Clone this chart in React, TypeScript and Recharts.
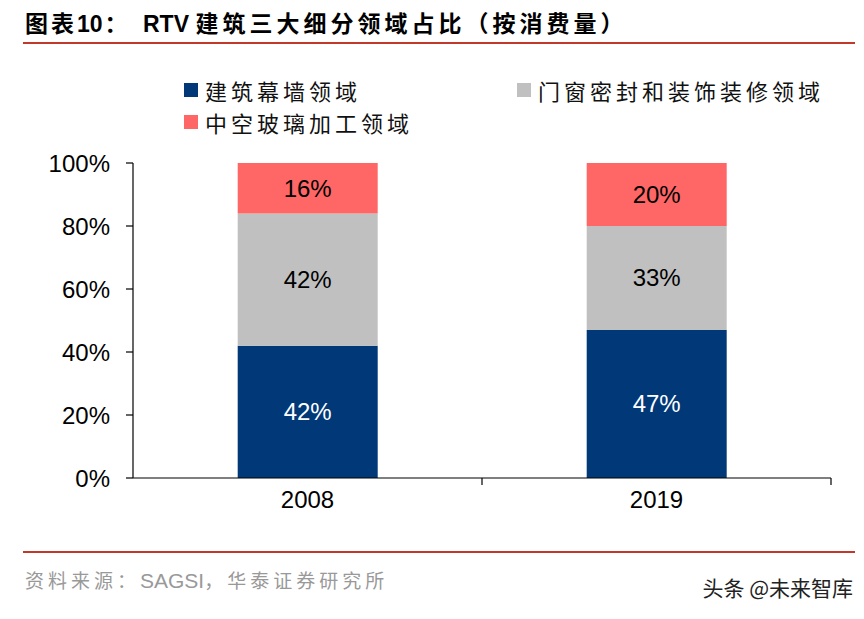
import React from "react";
import { BarChart, Bar, XAxis, YAxis, LabelList } from "recharts";

const years = ["2008", "2019"];
const curtainWall = [42, 47];
const doorWindow = [42, 33];
const insulatingGlass = [16, 20];
const yTicks = [0, 20, 40, 60, 80, 100];

const seriesNames = ["建筑幕墙领域", "门窗密封和装饰装修领域", "中空玻璃加工领域"];
const seriesColors = ["#003878", "#C0C0C0", "#FF6666"];
const labelColors = ["#ffffff", "#000000", "#000000"];

const data = years.map((year, i) => ({
  year,
  curtainWall: curtainWall[i],
  doorWindow: doorWindow[i],
  insulatingGlass: insulatingGlass[i],
}));
const seriesKeys = ["curtainWall", "doorWindow", "insulatingGlass"];

const W = 864;
const H = 619;
const PLOT_LEFT = 133;
const PLOT_RIGHT = 831;
const PLOT_TOP = 163;
const PLOT_BOTTOM = 478;
const X_AXIS_H = 40;
const halfBand = (PLOT_RIGHT - PLOT_LEFT) / years.length / 2;

const latin = "'Liberation Sans', Arial, 'Noto Sans CJK SC', sans-serif";
const cjk = "'Noto Sans CJK SC', 'Liberation Sans', sans-serif";

function YearTick(props: any) {
  const { x, y, payload } = props;
  return (
    <g>
      <line x1={x + halfBand} y1={y} x2={x + halfBand} y2={y + 7} stroke="#000" strokeWidth={1.2} />
      <text x={x} y={y + 30} textAnchor="middle" fontSize={24} fontFamily={latin} fill="#000">
        {payload.value}
      </text>
    </g>
  );
}

export default function App() {
  return (
    <div style={{ position: "absolute", left: 0, top: 0, width: W, height: H, background: "#fff", overflow: "hidden" }}>
      {/* title */}
      <div style={{ position: "absolute", left: 25, top: 10, fontSize: 23, lineHeight: "28px", fontWeight: 700, fontFamily: latin, color: "#000", whiteSpace: "nowrap" }}>
        <span style={{ letterSpacing: 3 }}>图表</span>10<span style={{ marginLeft: 2 }}>：</span>
      </div>
      <div style={{ position: "absolute", left: 143, top: 10, fontSize: 23, lineHeight: "28px", fontWeight: 700, fontFamily: latin, color: "#000", whiteSpace: "nowrap" }}>
        RTV <span style={{ letterSpacing: 4 }}>建筑三大细分领域占比（按消费量）</span>
      </div>
      <div style={{ position: "absolute", left: 23, top: 42, width: 832, height: 2, background: "#C0392B" }} />

      {/* legend */}
      {seriesNames.map((name, i) => {
        const pos = [
          { left: 184, top: 90 },
          { left: 517, top: 90 },
          { left: 184, top: 122 },
        ][i];
        return (
          <div key={name} style={{ position: "absolute", left: pos.left, top: pos.top - 14, height: 28, display: "flex", alignItems: "center", whiteSpace: "nowrap" }}>
            <div style={{ width: 14, height: 14, background: seriesColors[i], marginRight: 7 }} />
            <span style={{ fontSize: 22, fontFamily: cjk, color: "#111", letterSpacing: 4 }}>{name}</span>
          </div>
        );
      })}

      <div style={{ position: "absolute", left: 0, top: 0 }}>
        <BarChart
          width={W}
          height={H}
          data={data}
          margin={{ top: PLOT_TOP, right: W - PLOT_RIGHT, left: 0, bottom: H - PLOT_BOTTOM - X_AXIS_H }}
          barCategoryGap="30%"
        >
          <XAxis
            dataKey="year"
            height={X_AXIS_H}
            axisLine={{ stroke: "#000", strokeWidth: 1.2 }}
            tickLine={false}
            tickSize={0}
            tickMargin={0}
            tick={<YearTick />}
            interval={0}
          />
          <YAxis
            width={PLOT_LEFT}
            domain={[0, 100]}
            ticks={yTicks}
            interval={0}
            tickFormatter={(v: number) => `${v}%`}
            axisLine={{ stroke: "#000", strokeWidth: 1.2 }}
            tickLine={{ stroke: "#000", strokeWidth: 1.2 }}
            tickSize={7}
            tickMargin={16}
            tick={{ fontSize: 24, fontFamily: latin, fill: "#000" }}
          />
          {seriesKeys.map((key, i) => (
            <Bar key={key} dataKey={key} stackId="a" fill={seriesColors[i]} isAnimationActive={false}>
              <LabelList
                dataKey={key}
                position="center"
                formatter={(v: any) => `${v}%`}
                fill={labelColors[i]}
                fontSize={24}
                fontFamily={latin}
              />
            </Bar>
          ))}
        </BarChart>
      </div>

      {/* footer */}
      <div style={{ position: "absolute", left: 23, top: 551, width: 832, height: 2, background: "#C0392B" }} />
      <div style={{ position: "absolute", left: 25, top: 568, fontSize: 19, lineHeight: "26px", fontFamily: latin, color: "#999", whiteSpace: "nowrap" }}>
        <span style={{ letterSpacing: 4 }}>资料来源：</span>
        <span style={{ fontSize: 21 }}>SAGSI</span>
        <span style={{ letterSpacing: 4 }}>，华泰证券研究所</span>
      </div>
      <div style={{ position: "absolute", right: 11, top: 573, fontSize: 21, lineHeight: "28px", fontFamily: cjk, color: "#222", whiteSpace: "nowrap" }}>
        头条 @未来智库
      </div>
    </div>
  );
}
